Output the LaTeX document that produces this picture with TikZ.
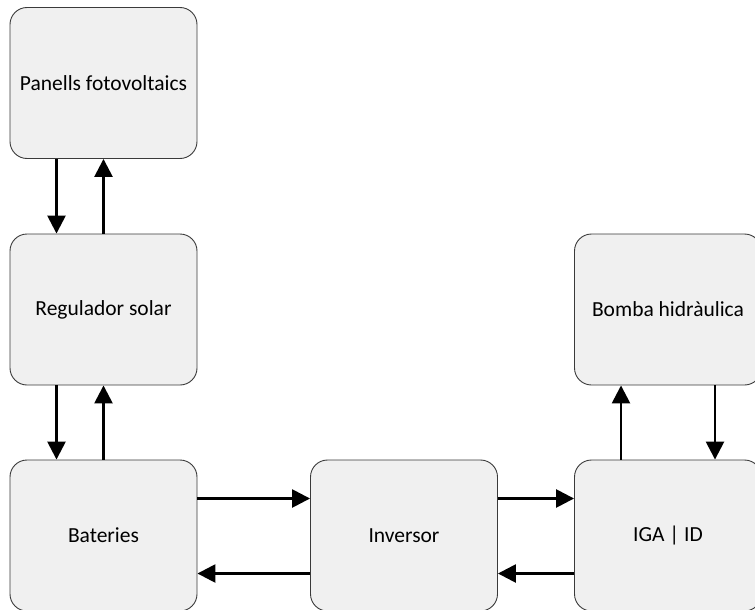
\documentclass[tikz,border=0pt]{standalone}
\usepackage{fontspec}
\setmainfont{Carlito}
\usetikzlibrary{arrows.meta}
\definecolor{boxfill}{HTML}{F0F0F0}
\definecolor{boxline}{HTML}{3A3A3A}
\begin{document}
\begin{tikzpicture}[x=1pt,y=-1pt,
  block/.style={draw=boxline, line width=0.9pt, fill=boxfill, rounded corners=17pt,
    minimum width=187pt, minimum height=151pt, inner sep=0pt,
    font=\fontsize{21.5}{26}\selectfont, text=black},
  flow/.style={line width=2.6pt, -{Triangle[length=18pt,width=18pt]}}]
\useasboundingbox (0,0) rectangle (755,610);
\clip (0,0) rectangle (755,610);

% blocks
\node[block] (pan) at (103.5,83)    {Panells fotovoltaics};
\node[block] (reg) at (103.5,309.5) {Regulador solar};
\node[block] (bat) at (103.5,535.5) {Bateries};
\node[block] (inv) at (404,535.5)   {Inversor};
\node[block] (iga) at (668,535.5)   {IGA | ID};
\node[block] (bom) at (668,309.5)   {Bomba hidràulica};

% vertical links
\draw[flow] ([xshift=-47pt]pan.south) -- ([xshift=-47pt]reg.north);
\draw[flow] (reg.north) -- (pan.south);
\draw[flow] ([xshift=-47pt]reg.south) -- ([xshift=-47pt]bat.north);
\draw[flow] (bat.north) -- (reg.south);
\draw[flow] ([xshift=-47pt]iga.north) -- ([xshift=-47pt]bom.south);
\draw[flow] ([xshift=47pt]bom.south) -- ([xshift=47pt]iga.north);

% horizontal links
\draw[flow] ([yshift=37pt]bat.east) -- ([yshift=37pt]inv.west);
\draw[flow] ([yshift=-38pt]inv.west) -- ([yshift=-38pt]bat.east);
\draw[flow] ([yshift=37pt]inv.east) -- ([yshift=37pt]iga.west);
\draw[flow] ([yshift=-38pt]iga.west) -- ([yshift=-38pt]inv.east);
\end{tikzpicture}
\end{document}
